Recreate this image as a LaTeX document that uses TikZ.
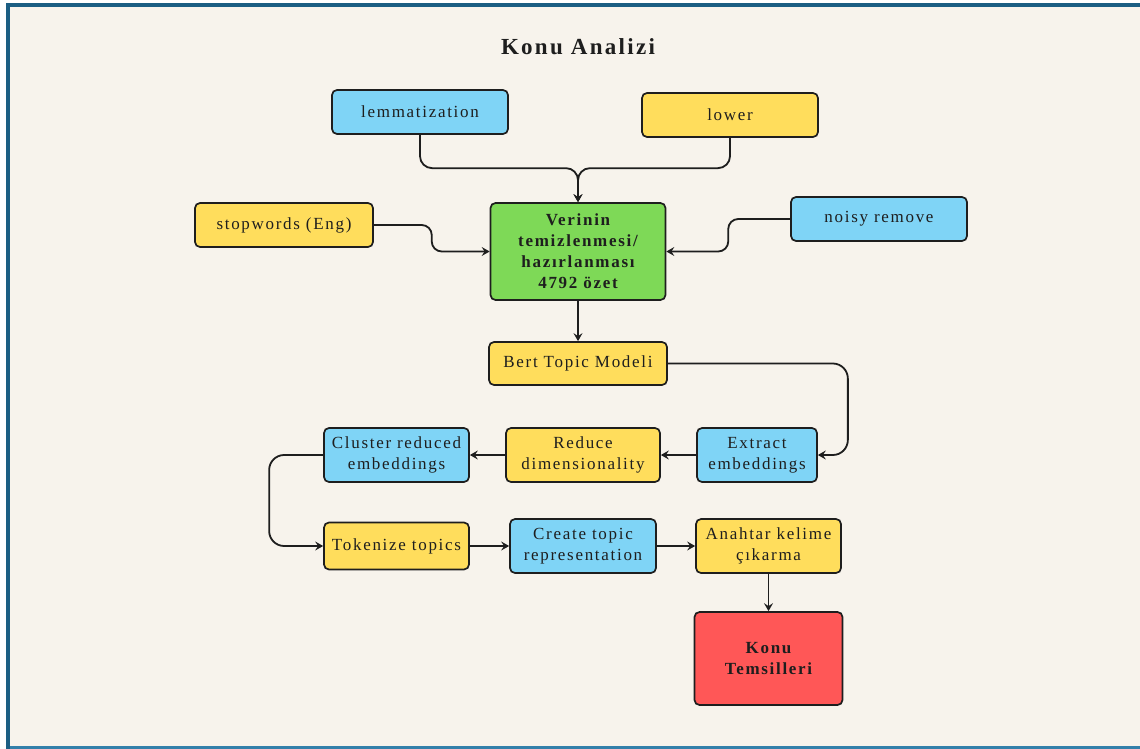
\documentclass[tikz,border=0pt]{standalone}
\usepackage{fontspec}
\setmainfont{Liberation Serif}[LetterSpace=10]
\usepackage{tikz}
\usetikzlibrary{calc,arrows.meta}
\definecolor{bg}{HTML}{F7F3EC}
\definecolor{frame}{HTML}{1B5E83}
\definecolor{frameb}{HTML}{3380AA}
\definecolor{skyb}{HTML}{7FD4F6}
\definecolor{sun}{HTML}{FFDD5C}
\definecolor{leaf}{HTML}{7ED957}
\definecolor{coral}{HTML}{FF5757}
\definecolor{ink}{HTML}{1E1E1E}

\begin{document}
\begin{tikzpicture}[x=1pt, y=-1pt,
        box/.style={draw=ink, line width=1.7pt, rounded corners=5pt, align=center, inner sep=2pt, text=ink, font=\fontsize{17}{21}\selectfont},
        bluebox/.style={box, fill=skyb},
        yellowbox/.style={box, fill=sun},
        arr/.style={draw=ink, line width=1.8pt, -{Stealth[length=8pt,width=9pt,inset=3pt]}}]
                \useasboundingbox (0,0) rectangle (1140,749);
                \fill[white] (0,0) rectangle (1140,749);
                \fill[bg] (10,7) rectangle (1140,746);
                \fill[frame] (6,3) rectangle (1140,7);
                \fill[frame] (6,3) rectangle (10,749);
                \fill[frameb] (10,746) rectangle (1140,749);

                \node[text=ink, font=\fontsize{23}{27}\selectfont\bfseries] (title) at (578,47) {Konu Analizi};

                \node[bluebox, minimum width=176, minimum height=44] (lemma) at (420,112) {lemmatization};
                \node[yellowbox, minimum width=176, minimum height=44] (lower) at (730,115) {lower};
                \node[yellowbox, minimum width=178, minimum height=44] (stopw) at (284,225) {stopwords (Eng)};
                \node[bluebox, minimum width=176, minimum height=44] (noisy) at (879,219) {noisy remove};
                \node[box, fill=leaf, font=\fontsize{17}{21}\selectfont\bfseries, minimum width=175, minimum height=97] (verin) at (578,251.5) {Verinin\\temizlenmesi/\\hazırlanması\\4792 özet};
                \node[yellowbox, minimum width=178, minimum height=43] (bert) at (578,363.5) {Bert Topic Modeli};

                \node[bluebox, minimum width=120, minimum height=54] (extract) at (757,455) {Extract\\embeddings};
                \node[yellowbox, minimum width=154, minimum height=54] (reduce) at (583,455) {Reduce\\dimensionality};
                \node[bluebox, minimum width=145, minimum height=54] (cluster) at (396.5,455) {Cluster reduced\\embeddings};

                \node[yellowbox, minimum width=145, minimum height=47] (token) at (396.5,546) {Tokenize topics};
                \node[bluebox, minimum width=146, minimum height=54] (create) at (583,546) {Create topic\\representation};
                \node[yellowbox, minimum width=145, minimum height=54] (anahtar) at (768.5,546) {Anahtar kelime\\çıkarma};
                \node[box, fill=coral, font=\fontsize{17}{21}\selectfont\bfseries, minimum width=148, minimum height=93] (konu) at (768.5,658.5) {Konu\\Temsilleri};

                \coordinate (merge) at ($(verin.north)+(0,-34)$);
                \coordinate (sbend) at ($(stopw.east)!.5!(verin.west)$);
                \coordinate (nbend) at ($(noisy.west)!.5!(verin.east)$);

                \draw[arr, rounded corners=12pt] (lemma.south) |- (merge) -- (verin.north);
                \draw[arr, rounded corners=12pt] (lower.south) |- (merge) -- (verin.north);
                \draw[arr, rounded corners=10pt] (stopw.east) -| (sbend |- verin.west) -- (verin.west);
                \draw[arr, rounded corners=10pt] (noisy.west) -| (nbend |- verin.east) -- (verin.east);
                \draw[arr] (verin.south) -- (bert.north);
                \draw[arr, rounded corners=15pt] (bert.east) -| ($(extract.east)+(30,0)$) -- (extract.east);
                \draw[arr] (extract.west) -- (reduce.east);
                \draw[arr] (reduce.west) -- (cluster.east);
                \draw[arr, rounded corners=15pt] (cluster.west) -- ++(-54,0) |- (token.west);
                \draw[arr] (token.east) -- (create.west);
                \draw[arr] (create.east) -- (anahtar.west);
                \draw[arr] (anahtar.south) -- (konu.north);
            \end{tikzpicture}
\end{document}
